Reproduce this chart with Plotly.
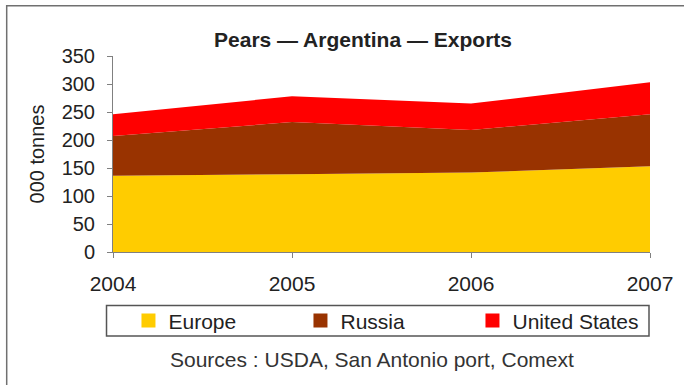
import plotly.graph_objects as go

# Argentine pear exports by destination, thousand tonnes
years = [2004, 2005, 2006, 2007]
europe = [136, 139, 142, 153]
russia = [71, 93, 76, 93]
united_states = [39, 46, 47, 57]

series = [
    ("Europe", europe, "#FFCC00"),
    ("Russia", russia, "#993300"),
    ("United States", united_states, "#FF0000"),
]

FONT = "Liberation Sans, Arial, sans-serif"
W, H = 684, 385
L, R, T, B = 112.5, 33.5, 55.7, 133.3
PW, PH = W - L - R, H - T - B


def px_x(px):
    return (px - L) / PW


def px_y(py):
    return (H - B - py) / PH


fig = go.Figure()
for name, vals, color in series:
    fig.add_trace(go.Scatter(
        x=years, y=vals, name=name, mode="none",
        stackgroup="exports", fillcolor=color,
        line=dict(width=0), showlegend=False, hoverinfo="skip",
    ))
    # square swatch for the legend
    fig.add_trace(go.Scatter(
        x=[None], y=[None], name=name, mode="markers",
        marker=dict(symbol="square", size=14, color=color),
        showlegend=True,
    ))

fig.update_layout(
    width=W, height=H,
    margin=dict(l=L, r=R, t=T, b=B),
    paper_bgcolor="white", plot_bgcolor="white",
    font=dict(family=FONT, color="#222222"),
    title=dict(
        text="<b>Pears — Argentina — Exports</b>",
        x=363 / W, xref="container", xanchor="center",
        y=1 - 40 / H, yref="container", yanchor="middle",
        font=dict(size=21, color="#222222"),
    ),
    showlegend=True,
    legend=dict(
        orientation="h", entrywidth=127, entrywidthmode="pixels",
        x=px_x(128), xanchor="left",
        y=px_y(320.5), yanchor="middle",
        font=dict(size=21, color="#222222"),
        bgcolor="rgba(0,0,0,0)", borderwidth=0,
        traceorder="normal",
    ),
    xaxis=dict(
        range=[2004, 2007], tickmode="array", tickvals=years,
        ticktext=[str(y) for y in years],
        showline=True, linecolor="#808080", linewidth=1,
        ticks="outside", ticklen=5, tickcolor="#808080",
        showgrid=False, zeroline=False,
        tickfont=dict(size=21, color="#222222"),
        ticklabelstandoff=8,
    ),
    yaxis=dict(
        range=[0, 350], dtick=50, tick0=0,
        showline=True, linecolor="#808080", linewidth=1,
        ticks="outside", ticklen=5, tickcolor="#808080",
        showgrid=False, zeroline=False,
        tickfont=dict(size=20, color="#222222"),
        ticklabelstandoff=8,
        title=dict(text="000 tonnes", font=dict(size=20, color="#222222"),
                   standoff=11),
    ),
    shapes=[
        # outer frame
        dict(type="rect", xref="paper", yref="paper",
             x0=px_x(6), x1=px_x(W + 20), y0=px_y(H + 20), y1=px_y(5.5),
             line=dict(color="#707070", width=1.5), fillcolor="rgba(0,0,0,0)",
             layer="below"),
        # legend box
        dict(type="rect", xref="paper", yref="paper",
             x0=px_x(106), x1=px_x(649.5), y0=px_y(335.7), y1=px_y(305.3),
             line=dict(color="#555555", width=1.5), fillcolor="rgba(0,0,0,0)"),
    ],
    annotations=[
        dict(text="Sources : USDA, San Antonio port, Comext",
             xref="paper", yref="paper", x=px_x(372), y=px_y(359),
             xanchor="center", yanchor="middle", showarrow=False,
             font=dict(size=21, color="#333333")),
    ],
)

fig.write_html("out.html")
